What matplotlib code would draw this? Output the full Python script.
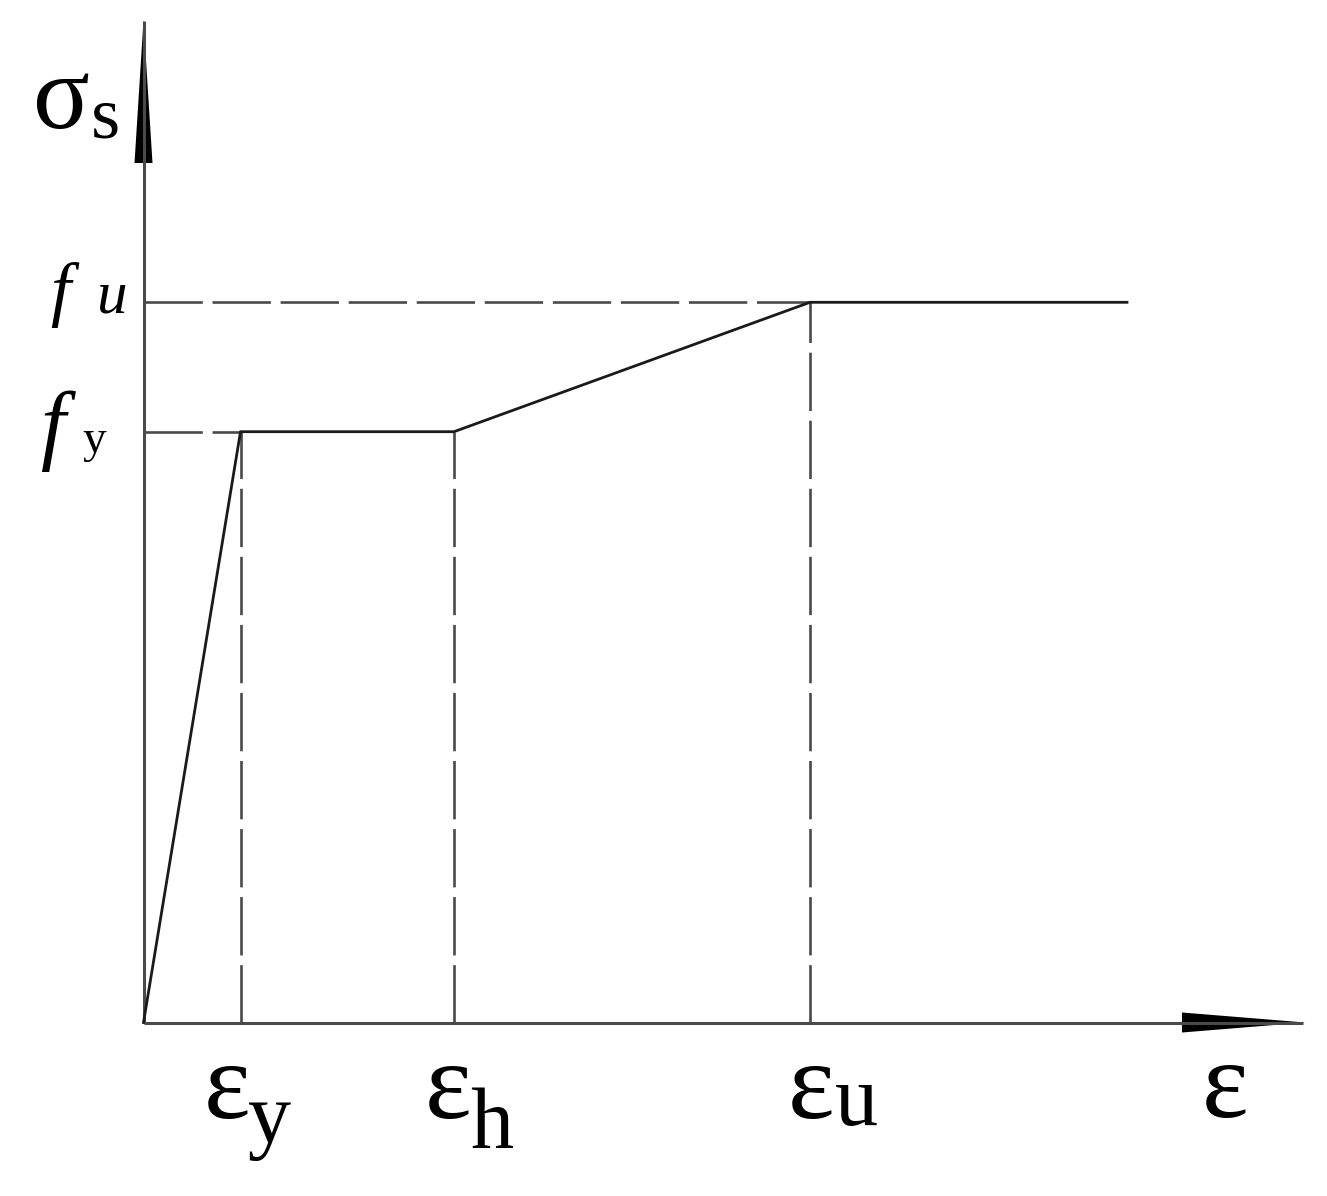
import matplotlib
matplotlib.use('Agg')
import matplotlib.pyplot as plt
from matplotlib.patches import Polygon

plt.rcParams['font.family'] = ['Liberation Serif', 'DejaVu Serif']
plt.rcParams['lines.scale_dashes'] = False

# idealised steel stress-strain curve (arbitrary units)
eps_y = 0.97
eps_h = 3.105
eps_u = 6.665
eps_end = 9.835
f_y = 5.908
f_u = 7.202

curve_x = [0, eps_y, eps_h, eps_u, eps_end]
curve_y = [0, f_y, f_y, f_u, f_u]

fig = plt.figure(figsize=(13.27, 11.96), dpi=100)
ax = fig.add_axes([0, 0, 1, 1])
ax.set_xlim(-1.435, 11.835)
ax.set_ylim(-1.735, 10.225)
ax.axis('off')

axis_col = '#4a4a4a'
line_col = '#1a1a1a'

# axes with arrows
ax.plot([0, 0], [0, 10.02], color=axis_col, lw=2.2, solid_capstyle='butt')
ax.plot([0, 11.6], [0, 0], color=axis_col, lw=2.2, solid_capstyle='butt')
ax.add_patch(Polygon([[-0.09, 8.595], [0.09, 8.595], [0, 10.02]], closed=True,
                     color='black', lw=0))
ax.add_patch(Polygon([[10.385, -0.1], [10.385, 0.1], [11.615, 0]], closed=True,
                     color='black', lw=0))

# dashed guide lines
dash = (42, 7)
for x, y in [(eps_y, f_y), (eps_h, f_y), (eps_u, f_u)]:
    ax.plot([x, x], [0, y], color=axis_col, lw=1.9, dashes=dash)
ax.plot([0, eps_y], [f_y, f_y], color=axis_col, lw=1.9, dashes=dash)
ax.plot([0, eps_u], [f_u, f_u], color=axis_col, lw=1.9, dashes=dash)

# curve
ax.plot(curve_x, curve_y, color=line_col, lw=2.0)

# labels
ax.text(-0.825, 8.945, 'σ', fontsize=76, ha='center', va='baseline')
ax.text(-0.53, 8.855, 's', fontsize=54, ha='left', va='baseline')

ax.text(-0.83, 7.10, 'f', fontsize=52, style='italic', ha='center', va='baseline')
ax.text(-0.465, 7.10, 'u', fontsize=44, style='italic', ha='left', va='baseline')
ax.text(-0.90, 5.70, 'f', fontsize=64, style='italic', ha='center', va='baseline')
ax.text(-0.61, 5.70, 'y', fontsize=34, ha='left', va='baseline')

ax.text(0.835, -0.955, 'ε', fontsize=80, ha='center', va='baseline')
ax.text(1.045, -1.195, 'y', fontsize=62, ha='left', va='baseline')
ax.text(3.045, -0.955, 'ε', fontsize=80, ha='center', va='baseline')
ax.text(3.265, -1.255, 'h', fontsize=62, ha='left', va='baseline')
ax.text(6.68, -0.955, 'ε', fontsize=80, ha='center', va='baseline')
ax.text(6.915, -1.025, 'u', fontsize=62, ha='left', va='baseline')
ax.text(10.815, -0.945, 'ε', fontsize=80, ha='center', va='baseline')

fig.savefig('out.png', dpi=100)
